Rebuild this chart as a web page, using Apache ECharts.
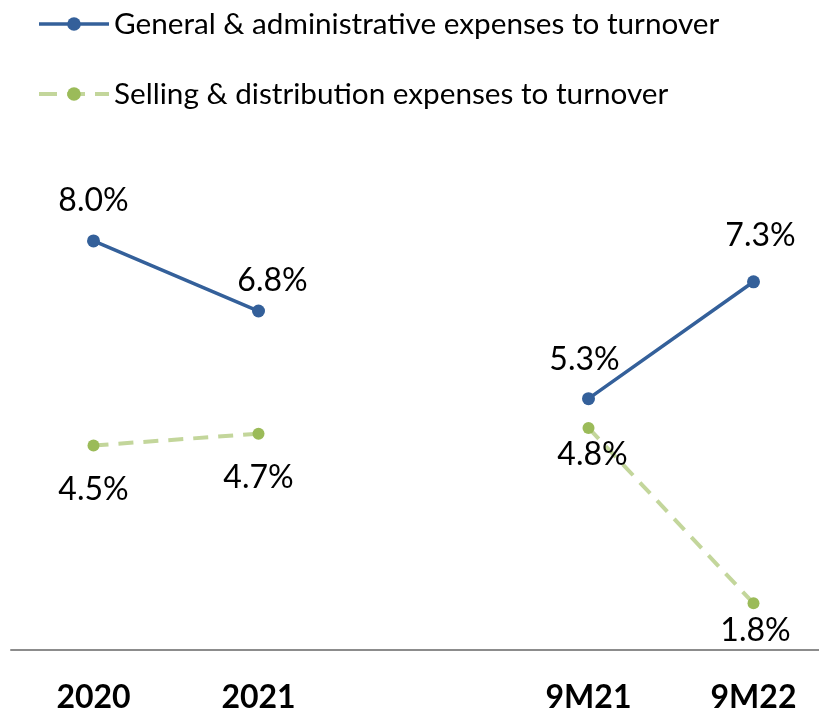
<!DOCTYPE html>
<html>
<head>
<meta charset="utf-8">
<script src="https://cdn.jsdelivr.net/npm/echarts@6/dist/echarts.min.js"></script>
<style>
  html, body { margin: 0; padding: 0; background: #ffffff; }
  #chart { width: 819px; height: 712px; }
</style>
</head>
<body>
<div id="chart"></div>
<script>
// Periods on the x axis; the empty slot separates full years from nine-month figures
const periods = ['2020', '2021', '', '9M21', '9M22'];

// Ratios to turnover, in percent (null = no value in the separator slot)
const adminExpenses = [8.0, 6.8, null, 5.3, 7.3];
const sellingExpenses = [4.5, 4.7, null, 4.8, 1.8];

const seriesNames = [
  'General & administrative expenses to turnover',
  'Selling & distribution expenses to turnover'
];

// Label placement relative to each marker, [dx, dy] in pixels
const adminLabelShift = [[0, -40], [14, -30], null, [-4, -39], [7, -46]];
const sellingLabelShift = [[0, 44], [0, 44], null, [4, 27], [2, 27]];

const FONT = 'Lato';
const BLUE = '#34609a';
const GREEN = '#9bbb59';
const GREEN_LINE = '#c3d69b';

function withLabels(values, shifts) {
  return values.map((v, i) => {
    if (v === null) return null;
    return {
      value: v,
      label: { offset: shifts[i] }
    };
  });
}

const chart = echarts.init(document.getElementById('chart'), null, { renderer: 'canvas' });

chart.setOption({
  animation: false,
  backgroundColor: '#ffffff',
  legend: {
    orient: 'vertical',
    left: 37,
    top: 9,
    padding: 0,
    itemWidth: 70,
    itemHeight: 17,
    itemGap: 40,
    textStyle: { fontFamily: FONT, fontSize: 29.7, color: '#000000' },
    data: [
      { name: seriesNames[0], lineStyle: { width: 3.5, color: BLUE } },
      { name: seriesNames[1], lineStyle: { width: 4, color: GREEN_LINE, type: [18, 10] } }
    ]
  },
  grid: {
    left: 11,
    top: 124,
    width: 825,
    bottom: 62,
    containLabel: false,
    outerBoundsMode: 'none'
  },
  xAxis: {
    type: 'category',
    data: periods,
    boundaryGap: true,
    axisLine: { show: true, lineStyle: { color: '#8c8c8c', width: 2 } },
    axisTick: { show: false },
    axisLabel: {
      fontFamily: FONT,
      fontSize: 32,
      fontWeight: 'bold',
      color: '#000000',
      margin: 32,
      interval: 0
    },
    splitLine: { show: false }
  },
  yAxis: {
    type: 'value',
    min: 1,
    max: 10,
    show: false
  },
  series: [
    {
      name: seriesNames[0],
      type: 'line',
      data: withLabels(adminExpenses, adminLabelShift),
      connectNulls: false,
      symbol: 'circle',
      symbolSize: 13,
      lineStyle: { color: BLUE, width: 3.5 },
      itemStyle: { color: BLUE },
      label: {
        show: true,
        position: 'inside',
        fontFamily: FONT,
        fontSize: 32,
        color: '#000000',
        formatter: p => p.value.toFixed(1) + '%'
      },
      z: 3
    },
    {
      name: seriesNames[1],
      type: 'line',
      data: withLabels(sellingExpenses, sellingLabelShift),
      connectNulls: false,
      symbol: 'circle',
      symbolSize: 12,
      lineStyle: { color: GREEN_LINE, width: 4, type: [15, 10] },
      itemStyle: { color: GREEN },
      label: {
        show: true,
        position: 'inside',
        fontFamily: FONT,
        fontSize: 32,
        color: '#000000',
        formatter: p => p.value.toFixed(1) + '%'
      },
      z: 2
    }
  ]
});
</script>
</body>
</html>
